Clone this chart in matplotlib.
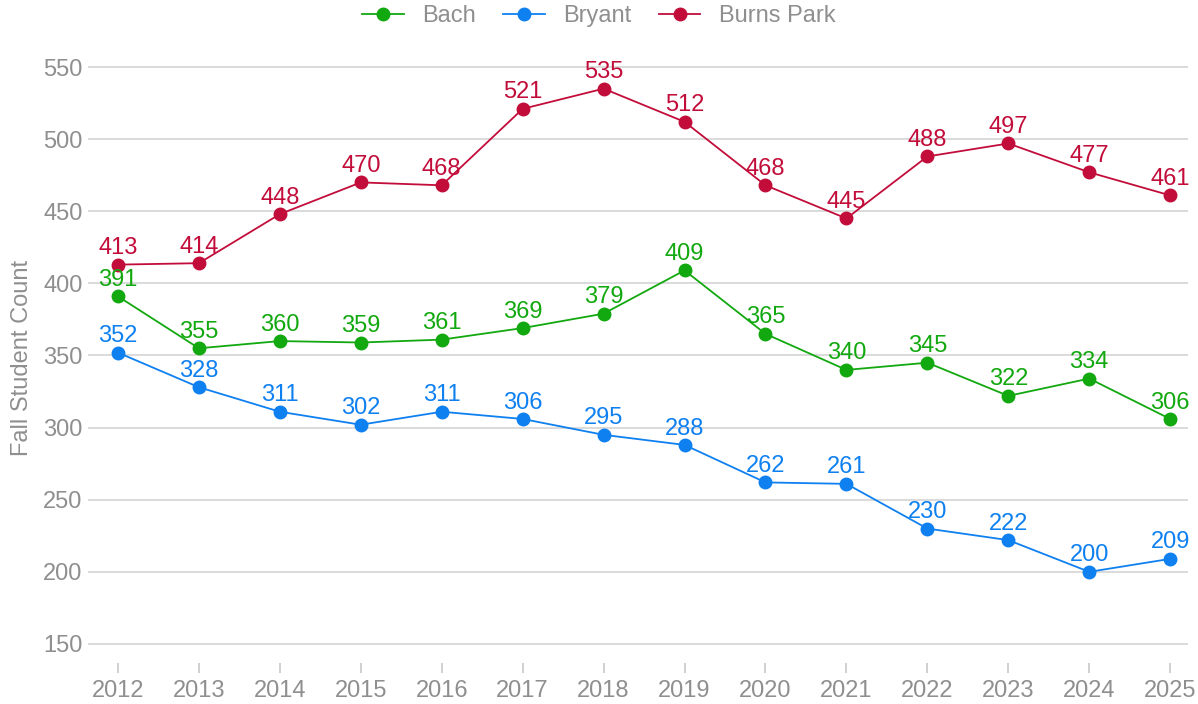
import matplotlib
matplotlib.use("Agg")
import matplotlib.pyplot as plt

plt.rcParams["font.family"] = ["Liberation Sans", "DejaVu Sans"]

years = list(range(2012, 2026))
bach = [391, 355, 360, 359, 361, 369, 379, 409, 365, 340, 345, 322, 334, 306]
bryant = [352, 328, 311, 302, 311, 306, 295, 288, 262, 261, 230, 222, 200, 209]
burns_park = [413, 414, 448, 470, 468, 521, 535, 512, 468, 445, 488, 497, 477, 461]

series = [
    ("Bach", bach, "#12a80f"),
    ("Bryant", bryant, "#0f80f0"),
    ("Burns Park", burns_park, "#c20d3a"),
]

GRAY = "#8f8f8f"
FS = 17

fig = plt.figure(figsize=(11.98, 7.04), dpi=100)
ax = fig.add_axes([88 / 1198, 1 - 663 / 704, 1100 / 1198, (663 - 52.6) / 704])

for name, vals, color in series:
    ax.plot(years, vals, color=color, linewidth=1.3, marker="o", markersize=9, label=name, zorder=3)
    for x, y in zip(years, vals):
        ax.annotate(str(y), (x, y), xytext=(0, 7.5), textcoords="offset points",
                    ha="center", va="baseline", color=color, fontsize=FS, zorder=4)

ax.set_xlim(2011.63, 2025.22)
ax.set_ylim(136.8, 560)
ax.set_xticks(years)
ax.set_yticks(range(150, 551, 50))
ax.grid(axis="y", color="#d4d4d4", linewidth=1.2)
ax.set_axisbelow(True)
for s in ax.spines.values():
    s.set_visible(False)
ax.tick_params(axis="x", colors="#c8c8c8", length=7, width=1.2, direction="out", pad=5,
               labelcolor=GRAY, labelsize=FS)
ax.tick_params(axis="y", length=0, pad=4, labelcolor=GRAY, labelsize=FS)
ax.set_ylabel("Fall Student Count", color=GRAY, fontsize=FS, labelpad=7)

leg = ax.legend(loc="center", bbox_to_anchor=(0.5, 1 - 16 / 704), bbox_transform=fig.transFigure,
                ncol=3, frameon=False, fontsize=FS, labelcolor=GRAY, handlelength=1.75,
                handletextpad=0.8, columnspacing=1.15)

fig.savefig("out.png", dpi=100)
